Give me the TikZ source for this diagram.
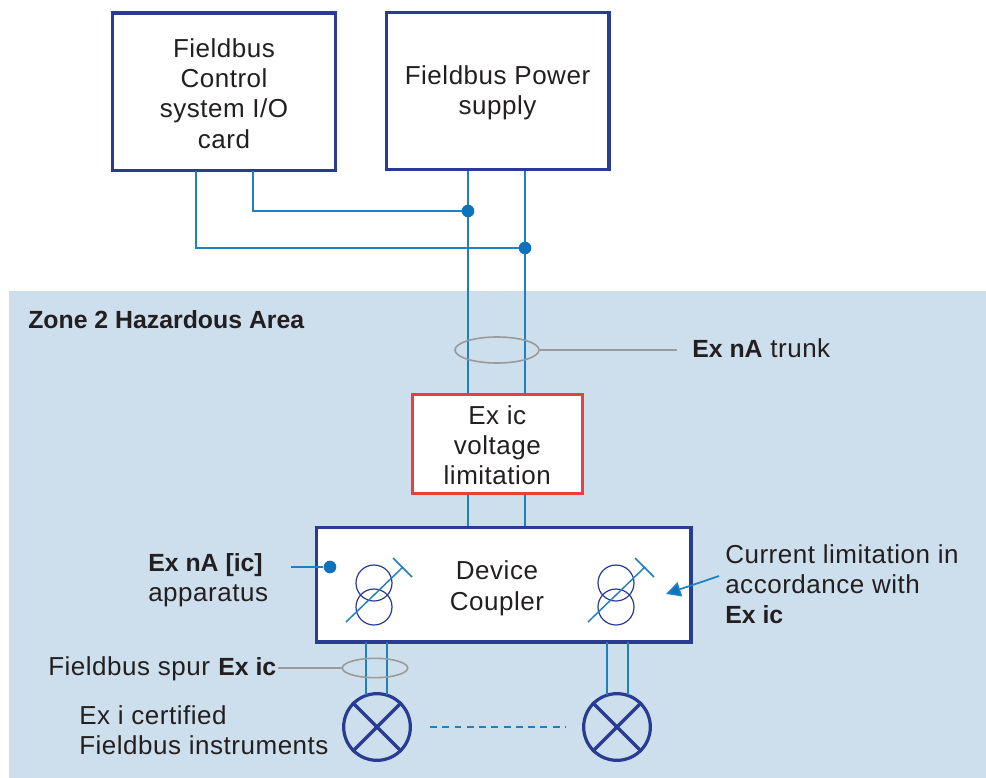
\documentclass[tikz,border=0pt]{standalone}
\usepackage{fontspec}
\setmainfont[LetterSpace=2,BoldFeatures={LetterSpace=0,Scale=0.955}]{Liberation Sans}
\usetikzlibrary{arrows.meta,shapes.geometric}
\definecolor{zonebg}{HTML}{CDDFED}
\definecolor{navy}{HTML}{2A3B92}
\definecolor{wire}{HTML}{1F7FC1}
\definecolor{dotblue}{HTML}{0F73BC}
\definecolor{redbox}{HTML}{E8413C}
\definecolor{ringgray}{HTML}{9A9A9A}
\definecolor{ink}{HTML}{231F20}
\newcommand{\lowerby}[1]{\rule{0pt}{#1}}
\tikzset{
  x=0.75pt,y=-0.75pt,
  boxnavy/.style={draw=navy,line width=2.5pt,fill=white,inner sep=0pt,text=ink,align=center,font=\fontsize{19.5}{22.7}\selectfont,minimum width=#1},
  wireline/.style={draw=wire,line width=1.3pt},
  leader/.style={draw=ringgray,line width=1.1pt},
  ringshape/.style={draw=ringgray,line width=1.2pt,ellipse,inner sep=0pt},
  junction/.style={circle,fill=dotblue,inner sep=0pt,minimum size=9.5pt},
  txt/.style={text=ink,font=\fontsize{19.5}{22.7}\selectfont,inner sep=0pt,align=left},
  coil/.style={draw=navy,line width=0.9pt},
  instr/.style={circle,draw=navy,line width=2.4pt,minimum size=50pt,inner sep=0pt},
  instrx/.style={draw=navy,line width=2.4pt},
}
\begin{document}
\begin{tikzpicture}
\useasboundingbox (0,0) rectangle (986,778);
\fill[zonebg] (9,291) rectangle (986,778);
\node[boxnavy=167.6pt,minimum height=118pt] (card) at (224,91.5) {\lowerby{17pt}Fieldbus\\Control\\system I/O\\card};
\node[boxnavy=167pt,minimum height=118pt] (psu) at (497.5,91) {\lowerby{17pt}Fieldbus Power\\supply};
\coordinate (j1) at (468,211);
\coordinate (j2) at (525,248);
\coordinate (c1) at (253,171);
\coordinate (c2) at (196,171);
\coordinate (p1) at (468,171);
\coordinate (p2) at (525,171);
\coordinate (v1t) at (468,393);
\coordinate (v2t) at (525,393);
\coordinate (v1b) at (468,527);
\coordinate (v2b) at (525,527);
\draw[wireline] (c1) |- (j1);
\draw[wireline] (c2) |- (j2);
\draw[wireline] (p1) -- (v1t);
\draw[wireline] (p2) -- (v2t);
\draw[wireline] (v1t) -- (v1b);
\draw[wireline] (v2t) -- (v2b);
\node[junction] (d1) at (j1) {};
\node[junction] (d2) at (j2) {};
\node[draw=redbox,line width=2.5pt,fill=white,inner sep=0pt,text=ink,align=center,font=\fontsize{19.5}{22.7}\selectfont,minimum width=127.5pt,minimum height=74.5pt] (ic) at (497.3,444) {\lowerby{16pt}Ex ic\\voltage\\limitation};
\node[boxnavy=281pt,minimum height=86pt] (coupler) at (503.5,584.5) {\lowerby{19.7pt}Device\hspace*{9.75pt}\\Coupler\hspace*{9.75pt}};
\node[instr] (i1) at (377,727) {};
\node[instr] (i2) at (617,727) {};
\foreach \n in {i1,i2}{
  \draw[instrx] (\n.45) -- (\n.225);
  \draw[instrx] (\n.135) -- (\n.-45);
}
\coordinate (s1t) at (366,642); \coordinate (s1b) at (366,695);
\coordinate (s2t) at (387,642); \coordinate (s2b) at (387,695);
\coordinate (s3t) at (607,642); \coordinate (s3b) at (607,695);
\coordinate (s4t) at (628,642); \coordinate (s4b) at (628,695);
\draw[wireline] (s1t) -- (s1b);
\draw[wireline] (s2t) -- (s2b);
\draw[wireline] (s3t) -- (s3b);
\draw[wireline] (s4t) -- (s4b);
\coordinate (dsh1) at (430,727);
\coordinate (dsh2) at (566,727);
\draw[draw=wire,line width=1pt,dash pattern=on 5.2pt off 4pt] (dsh1) -- (dsh2);
\foreach \dx in {0,242}{
  \begin{scope}[xshift=\dx*0.75pt]
    \draw[coil] (374,583) circle[radius=18];
    \draw[coil] (374,607) circle[radius=18];
    \draw[wireline,line width=1.1pt] (346,622) -- (403,567);
    \draw[wireline,line width=1.1pt] (393,558) -- (412,577);
  \end{scope}
}
\node[ringshape,minimum width=63pt,minimum height=19.5pt] (trunkring) at (497,350) {};
\node[txt,anchor=west] (trunklbl) at (692,348) {\textbf{Ex nA} trunk};
\coordinate (tl) at (677,350);
\draw[leader] (trunkring.east) -- (tl);
\node[ringshape,minimum width=49pt,minimum height=14.5pt] (spurring) at (375,668) {};
\node[txt,anchor=west] (spurlbl) at (48,669) {Fieldbus spur \textbf{Ex ic}};
\coordinate (sl) at (278,668);
\draw[leader] (sl) -- (spurring.west);
\node[txt,anchor=west] (applbl) at (148,580) {\textbf{Ex nA [ic]}\\apparatus};
\node[junction] (appdot) at (330,567) {};
\coordinate (appl) at (291,567);
\draw[wireline] (appl) -- (appdot);
\node[txt,anchor=west] (curlbl) at (725,584) {Current limitation in\\accordance with\\\textbf{Ex ic}};
\coordinate (curs) at (719,576);
\coordinate (curt) at (666,594);
\draw[wireline,-{Triangle[length=11pt,width=11pt,fill=dotblue]}] (curs) -- (curt);
\node[txt,anchor=west] (zone) at (28,320) {\textbf{Zone 2 Hazardous Area}};
\node[txt,anchor=west] (inst) at (79,730) {Ex i certified\\Fieldbus instruments};
\end{tikzpicture}
\end{document}
